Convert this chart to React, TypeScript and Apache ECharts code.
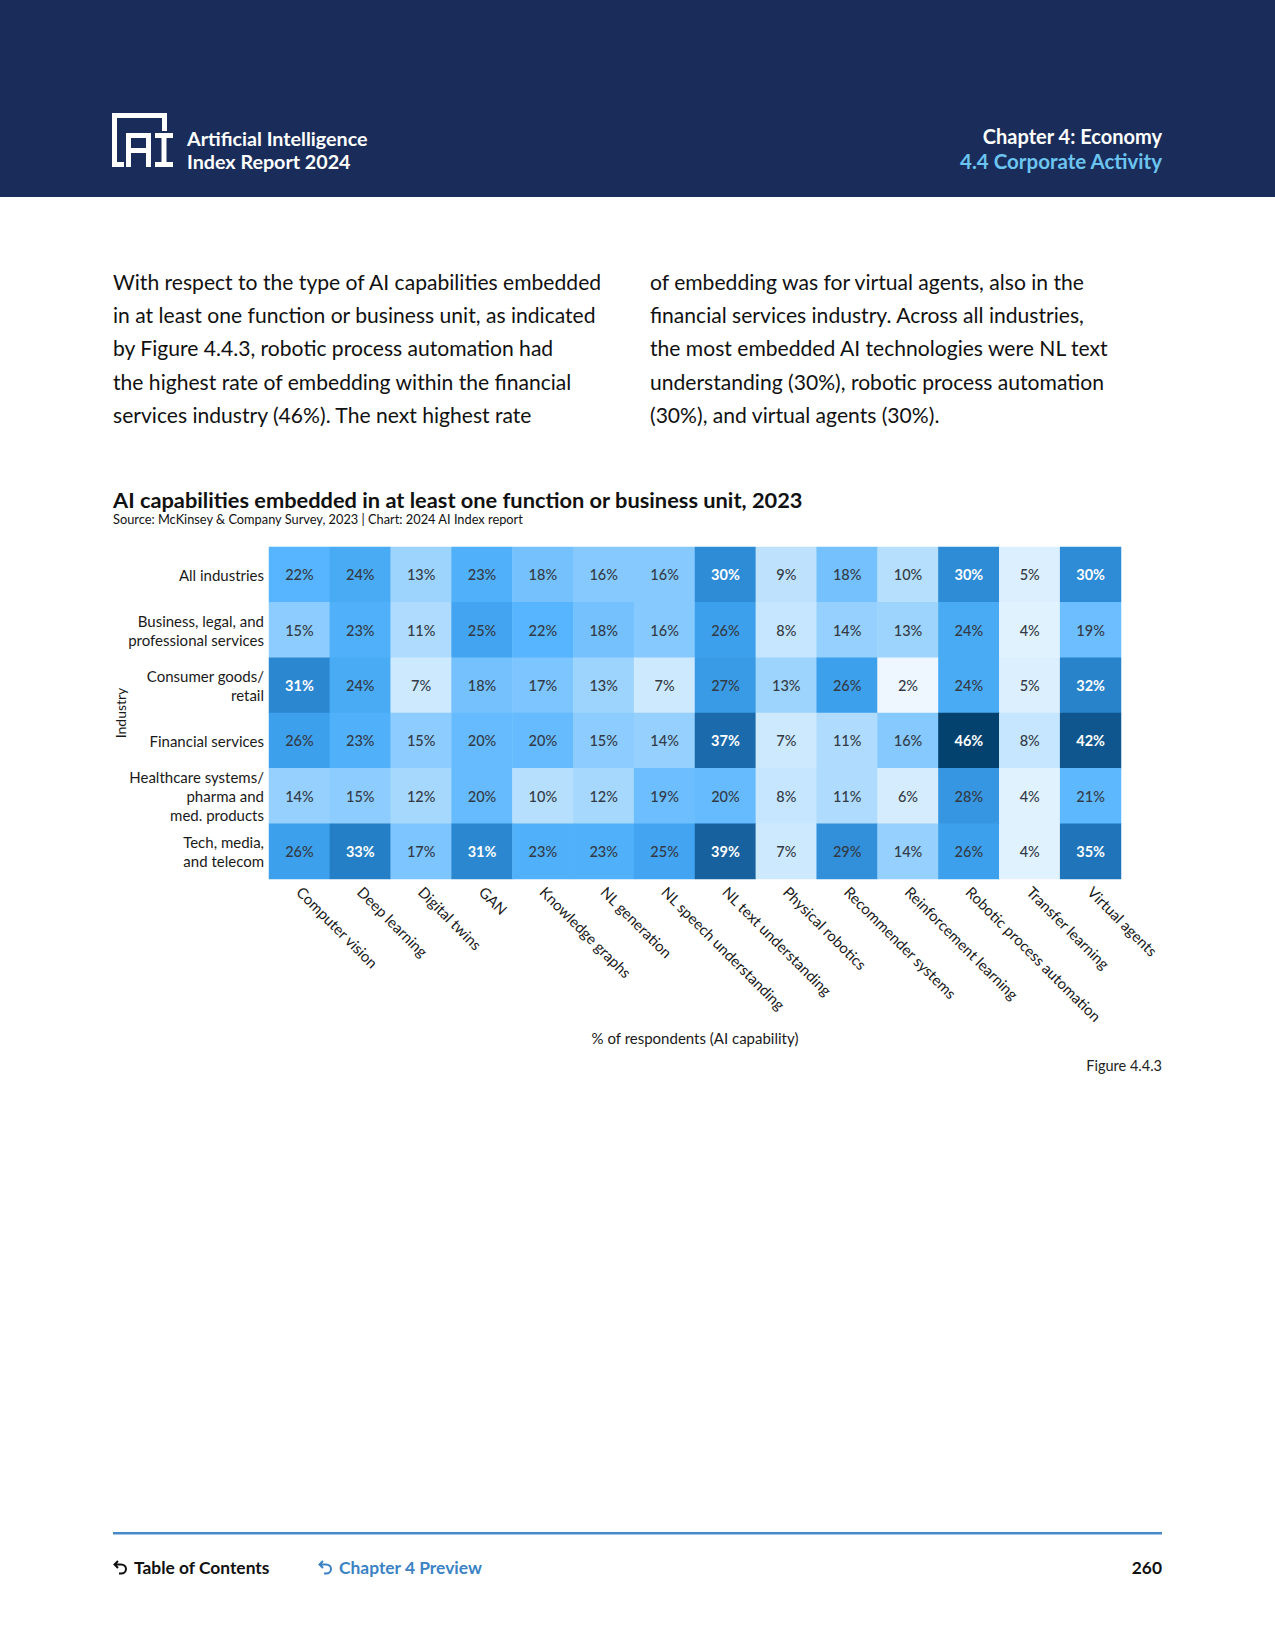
import React, { useEffect, useRef } from "react";
import * as echarts from "echarts";

const industries = [
  "All industries",
  "Business, legal, and\nprofessional services",
  "Consumer goods/\nretail",
  "Financial services",
  "Healthcare systems/\npharma and\nmed. products",
  "Tech, media,\nand telecom",
];

const capabilities = [
  "Computer vision",
  "Deep learning",
  "Digital twins",
  "GAN",
  "Knowledge graphs",
  "NL generation",
  "NL speech understanding",
  "NL text understanding",
  "Physical robotics",
  "Recommender systems",
  "Reinforcement learning",
  "Robotic process automation",
  "Transfer learning",
  "Virtual agents",
];

const allIndustries = [22, 24, 13, 23, 18, 16, 16, 30, 9, 18, 10, 30, 5, 30];
const businessLegal = [15, 23, 11, 25, 22, 18, 16, 26, 8, 14, 13, 24, 4, 19];
const consumerGoods = [31, 24, 7, 18, 17, 13, 7, 27, 13, 26, 2, 24, 5, 32];
const financialServices = [26, 23, 15, 20, 20, 15, 14, 37, 7, 11, 16, 46, 8, 42];
const healthcare = [14, 15, 12, 20, 10, 12, 19, 20, 8, 11, 6, 28, 4, 21];
const techMedia = [26, 33, 17, 31, 23, 23, 25, 39, 7, 29, 14, 26, 4, 35];

const rows = [allIndustries, businessLegal, consumerGoods, financialServices, healthcare, techMedia];

const leftParagraph = [
  "With respect to the type of AI capabilities embedded",
  "in at least one function or business unit, as indicated",
  "by Figure 4.4.3, robotic process automation had",
  "the highest rate of embedding within the financial",
  "services industry (46%). The next highest rate",
];
const rightParagraph = [
  "of embedding was for virtual agents, also in the",
  "financial services industry. Across all industries,",
  "the most embedded AI technologies were NL text",
  "understanding (30%), robotic process automation",
  "(30%), and virtual agents (30%).",
];

const FONT = "Lato, 'Noto Sans', sans-serif";

const arrowPath =
  "M5 1 L1.5 4.5 L5 8 M1.5 4.5 L8 4.5 C11 4.5 13 6.5 13 9 C13 11.5 11 13.5 8 13.5 L6 13.5";

let registered = false;
function registerShapes() {
  if (registered) return;
  registered = true;
  echarts.graphic.registerShape("backArrow", echarts.graphic.extendPath(arrowPath, {}) as any);
}

function txt(x: number, y: number, text: string, opts: any = {}) {
  const align = opts.align || "left";
  return {
    type: "text",
    x,
    y,
    silent: true,
    style: {
      text,
      fill: opts.fill || "#111",
      fontSize: opts.fontSize || 14,
      fontWeight: opts.fontWeight || "normal",
      fontFamily: FONT,
      align,
      textAlign: align,
      verticalAlign: "middle",
      textVerticalAlign: "middle",
    },
  };
}

function rect(x: number, y: number, w: number, h: number, fill: string) {
  return { type: "rect", silent: true, shape: { x, y, width: w, height: h }, style: { fill } };
}

export default function App() {
  const ref = useRef<HTMLDivElement>(null);

  useEffect(() => {
    if (!ref.current) return;
    registerShapes();
    const chart = echarts.init(ref.current, undefined, { renderer: "svg" });

    const data: any[] = [];
    rows.forEach((row, yi) => {
      row.forEach((v, xi) => {
        const dark = v >= 30;
        data.push({
          value: [xi, yi, v],
          label: {
            color: dark ? "#ffffff" : "#333a44",
            fontWeight: dark ? "bold" : 500,
          },
        });
      });
    });

    const graphics: any[] = [];
    // header
    graphics.push(rect(0, 0, 1275, 197, "#1a2d5a"));
    // logo
    const W = "#ffffff";
    graphics.push(rect(112, 113, 55, 5, W));
    graphics.push(rect(112, 113, 5, 54, W));
    graphics.push(rect(112, 162, 12, 5, W));
    graphics.push(rect(162, 113, 5, 18, W));
    // A
    graphics.push(rect(126, 133, 5, 34, W));
    graphics.push(rect(146, 133, 5, 34, W));
    graphics.push(rect(126, 133, 25, 5, W));
    graphics.push(rect(126, 148, 25, 5, W));
    // I
    graphics.push(rect(155, 133, 18, 5, W));
    graphics.push(rect(161.5, 133, 5, 34, W));
    graphics.push(rect(155, 162, 18, 5, W));

    graphics.push(txt(187, 138, "Artificial Intelligence", { fill: "#fff", fontSize: 19.7, fontWeight: "bold" }));
    graphics.push(txt(187, 161, "Index Report 2024", { fill: "#fff", fontSize: 19.7, fontWeight: "bold" }));
    graphics.push(txt(1162, 136, "Chapter 4: Economy", { fill: "#fff", fontSize: 20, fontWeight: "bold", align: "right" }));
    graphics.push(txt(1162, 161, "4.4 Corporate Activity", { fill: "#6cc5f0", fontSize: 20.5, fontWeight: "bold", align: "right" }));

    // paragraphs
    leftParagraph.forEach((line, i) => {
      graphics.push(txt(113, 281.5 + 33.2 * i, line, { fontSize: 21.1, fill: "#111" }));
    });
    rightParagraph.forEach((line, i) => {
      graphics.push(txt(650, 281.5 + 33.2 * i, line, { fontSize: 21.1, fill: "#111" }));
    });

    // title
    graphics.push(txt(113, 499, "AI capabilities embedded in at least one function or business unit, 2023", { fontSize: 21.8, fontWeight: "bold", fill: "#111" }));
    graphics.push(txt(113, 519, "Source: McKinsey & Company Survey, 2023 | Chart: 2024 AI Index report", { fontSize: 12.8, fill: "#111" }));

    graphics.push(txt(1162, 1065, "Figure 4.4.3", { fontSize: 14.5, fill: "#222", align: "right" }));

    // footer
    graphics.push(rect(113, 1532, 1049, 2.5, "#4a89c8"));
    graphics.push({
      type: "backArrow",
      x: 113,
      y: 1560,
      scaleX: 1,
      scaleY: 1,
      silent: true,
      style: { fill: "none", stroke: "#111", lineWidth: 2 },
    });
    graphics.push(txt(134, 1567.5, "Table of Contents", { fontSize: 17.4, fontWeight: "bold", fill: "#111" }));
    graphics.push({
      type: "backArrow",
      x: 318,
      y: 1560,
      scaleX: 1,
      scaleY: 1,
      silent: true,
      style: { fill: "none", stroke: "#3b82c4", lineWidth: 2 },
    });
    graphics.push(txt(339, 1567.5, "Chapter 4 Preview", { fontSize: 17.4, fontWeight: "bold", fill: "#3b82c4" }));
    graphics.push(txt(1162, 1567.5, "260", { fontSize: 17.4, fontWeight: "bold", fill: "#111", align: "right" }));

    chart.setOption({
      animation: false,
      backgroundColor: "#ffffff",
      graphic: { elements: graphics },
      grid: { left: 269, top: 547, width: 852, height: 332, containLabel: false },
      xAxis: {
        type: "category",
        data: capabilities,
        position: "bottom",
        axisLine: { show: false },
        axisTick: { show: false },
        splitLine: { show: false },
        axisLabel: {
          interval: 0,
          rotate: -45,
          margin: 10,
          fontSize: 15,
          color: "#1a1a1a",
          fontFamily: FONT,
        },
        name: "% of respondents (AI capability)",
        nameLocation: "middle",
        nameGap: 151,
        nameMoveOverlap: false,
        nameTextStyle: { fontSize: 15, color: "#1a1a1a", fontFamily: FONT },
      },
      yAxis: {
        type: "category",
        data: industries,
        inverse: true,
        axisLine: { show: false },
        axisTick: { show: false },
        splitLine: { show: false },
        axisLabel: {
          margin: 5,
          fontSize: 15,
          lineHeight: 19,
          color: "#1a1a1a",
          fontFamily: FONT,
          align: "right",
        },
        name: "Industry",
        nameLocation: "middle",
        nameRotate: 90,
        nameGap: 142,
        nameMoveOverlap: false,
        nameTextStyle: { fontSize: 14, color: "#1a1a1a", fontFamily: FONT },
      },
      visualMap: {
        show: false,
        type: "continuous",
        min: 2,
        max: 46,
        dimension: 2,
        inRange: {
          color: [
            "#eef7ff",
            "#d4ecfe",
            "#b6dffe",
            "#95d0fe",
            "#74c1fe",
            "#56b5fe",
            "#3da0ec",
            "#2e8bd5",
            "#227bc1",
            "#1964a3",
            "#10568e",
            "#03426f",
          ],
        },
      },
      series: [
        {
          type: "heatmap",
          data,
          label: {
            show: true,
            fontSize: 14.5,
            fontFamily: FONT,
            formatter: (p: any) => p.value[2] + "%",
          },
          itemStyle: { borderWidth: 0 },
          emphasis: { disabled: true },
        },
      ],
    });

    return () => {
      chart.dispose();
    };
  }, []);

  return (
    <div
      ref={ref}
      style={{ position: "absolute", left: 0, top: 0, width: 1275, height: 1650, background: "#fff" }}
    />
  );
}
